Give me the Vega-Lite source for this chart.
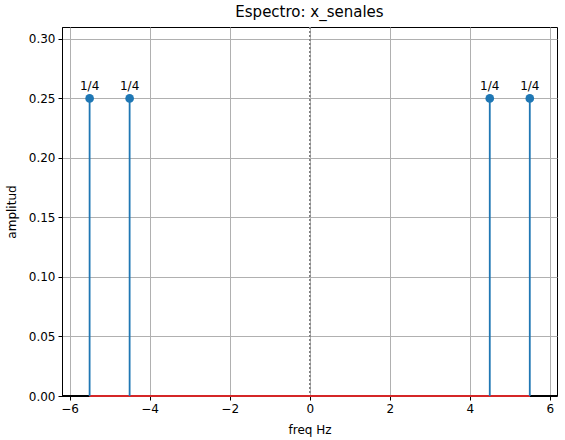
{
  "$schema": "https://vega.github.io/schema/vega-lite/v6.json",
  "width": 495,
  "height": 369,
  "autosize": "none",
  "padding": {"left": 62, "top": 27, "right": 8, "bottom": 44},
  "background": "white",
  "title": {
    "text": "Espectro: x_senales",
    "font": "DejaVu Sans",
    "fontSize": 15,
    "fontWeight": "normal",
    "color": "black",
    "offset": 6
  },
  "config": {
    "view": {"stroke": "black", "strokeWidth": 1},
    "font": "DejaVu Sans",
    "axis": {
      "grid": true,
      "labelFont": "DejaVu Sans",
      "labelFontSize": 12,
      "labelColor": "black",
      "titleFont": "DejaVu Sans",
      "titleFontSize": 12,
      "titleFontWeight": "normal",
      "titleColor": "black",
      "domainColor": "black",
      "tickColor": "black",
      "tickSize": 4,
      "labelPadding": 3,
      "gridColor": "#b0b0b0",
      "gridWidth": 1,
      "gridOpacity": 1
    }
  },
  "data": {
    "values": [
      {"freq": -5.5, "amp": 0.25, "etiqueta": "1/4"},
      {"freq": -4.5, "amp": 0.25, "etiqueta": "1/4"},
      {"freq": 4.5, "amp": 0.25, "etiqueta": "1/4"},
      {"freq": 5.5, "amp": 0.25, "etiqueta": "1/4"}
    ]
  },
  "encoding": {
    "x": {
      "field": "freq",
      "type": "quantitative",
      "scale": {"domain": [-6.19, 6.18], "nice": false, "zero": false},
      "axis": {
        "title": "freq Hz",
        "grid": true,
        "values": [-6, -4, -2, 0, 2, 4, 6],
        "labelExpr": "replace(datum.label, '-', '−')",
        "titlePadding": 10
      }
    },
    "y": {
      "field": "amp",
      "type": "quantitative",
      "scale": {"domain": [0, 0.31], "nice": false},
      "axis": {
        "title": "amplitud",
        "grid": true,
        "values": [0, 0.05, 0.1, 0.15, 0.2, 0.25, 0.3],
        "format": ".2f",
        "titlePadding": 10
      }
    }
  },
  "layer": [
    {
      "mark": {"type": "rule", "color": "gray", "strokeDash": [2, 2], "strokeWidth": 1.2},
      "encoding": {"x": {"datum": 0, "type": "quantitative"}, "y": null}
    },
    {
      "mark": {"type": "rule", "color": "black", "strokeWidth": 2},
      "encoding": {"y": {"datum": 0, "type": "quantitative"}, "x": null}
    },
    {
      "mark": {"type": "rule", "color": "#d62728", "strokeWidth": 1.5},
      "encoding": {
        "x": {"datum": -5.5, "type": "quantitative"},
        "x2": {"datum": 5.5},
        "y": {"datum": 0, "type": "quantitative"}
      }
    },
    {
      "mark": {"type": "rule", "color": "#1f77b4", "strokeWidth": 1.8},
      "encoding": {
        "y2": {"datum": 0}
      }
    },
    {
      "mark": {"type": "point", "filled": true, "shape": "circle", "size": 75, "color": "#1f77b4", "opacity": 1},
      "encoding": {}
    },
    {
      "mark": {"type": "text", "baseline": "bottom", "dy": -5, "fontSize": 12, "color": "black", "font": "DejaVu Sans"},
      "encoding": {
        "text": {"field": "etiqueta"}
      }
    }
  ]
}
